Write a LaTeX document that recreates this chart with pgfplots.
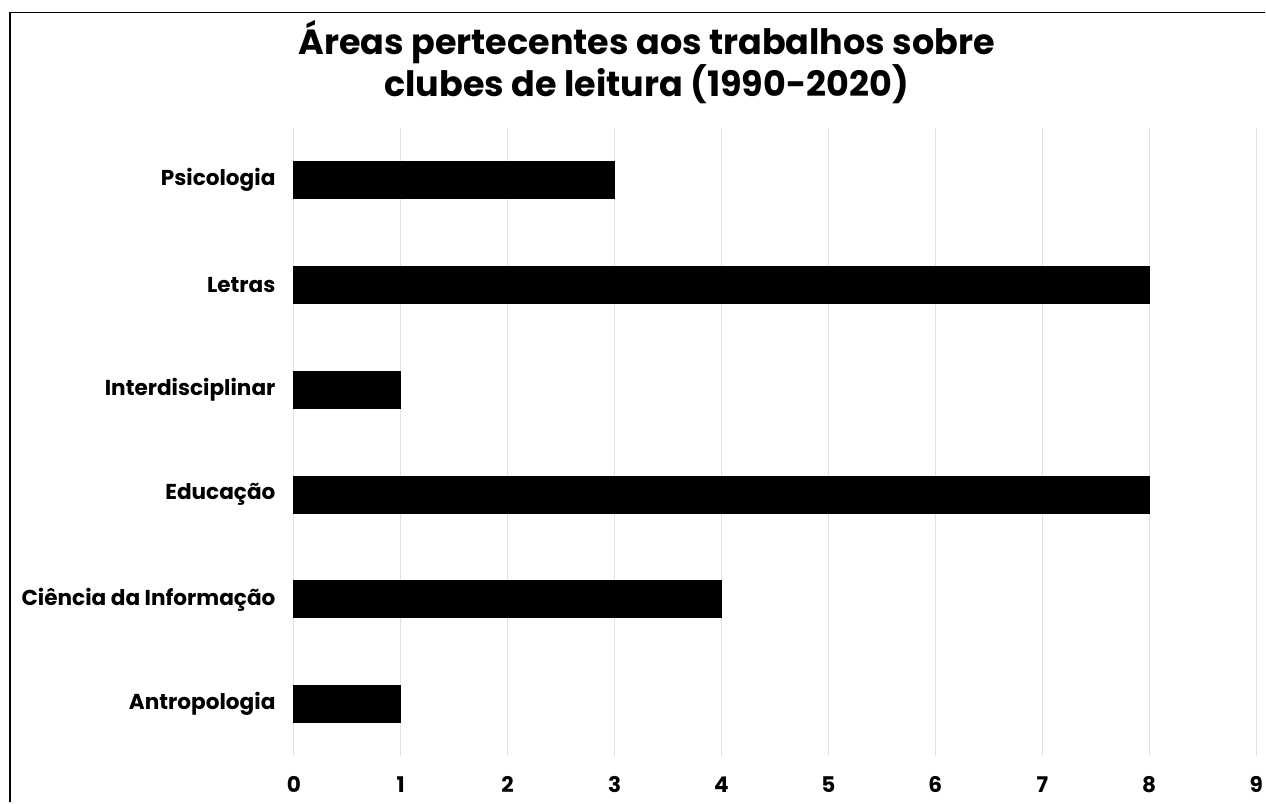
\documentclass[border=0pt]{standalone}
\usepackage{pgfplots}
\pgfplotsset{compat=1.18}
\usepackage{fontspec}
\setmainfont{Poppins}
\definecolor{gridgray}{RGB}{225,225,225}
\begin{document}
\begin{tikzpicture}[x=1pt,y=1pt]
\path (0,0) rectangle (633,401.5);
\draw[line width=0.85pt] (5,0) -- (5,395.2) -- (633,395.2);
\node[anchor=base, font=\bfseries\fontsize{17.5}{20}\selectfont] at (323.5,374) {Áreas pertecentes aos trabalhos sobre};
\node[anchor=base, font=\bfseries\fontsize{17.5}{20}\selectfont] at (323.5,353) {clubes de leitura (1990-2020)};
\begin{axis}[
  at={(147pt,23pt)}, anchor=south west,
  scale only axis, width=481.5pt, height=314.5pt,
  xbar, bar width=18.5pt,
  xmin=0, xmax=9, ymin=-0.5, ymax=5.5,
  xtick={0,1,...,9}, ytick={0,1,2,3,4,5},
  yticklabels={Antropologia, Ciência da Informação, Educação, Interdisciplinar, Letras, Psicologia},
  axis line style={draw=none},
  major tick length=0pt,
  xmajorgrids, major grid style={gridgray, line width=0.6pt},
  /pgf/number format/assume math mode=true,
  ticklabel style={font=\bfseries\fontsize{10.8}{12}\selectfont},
  yticklabel style={inner sep=0pt, anchor=east, xshift=-9pt},
  xticklabel style={inner sep=0pt, anchor=north, yshift=-10pt},
  clip=false,
]
\addplot[fill=black, draw=black] coordinates {(1,0) (4,1) (8,2) (1,3) (8,4) (3,5)};
\end{axis}
\end{tikzpicture}
\end{document}
